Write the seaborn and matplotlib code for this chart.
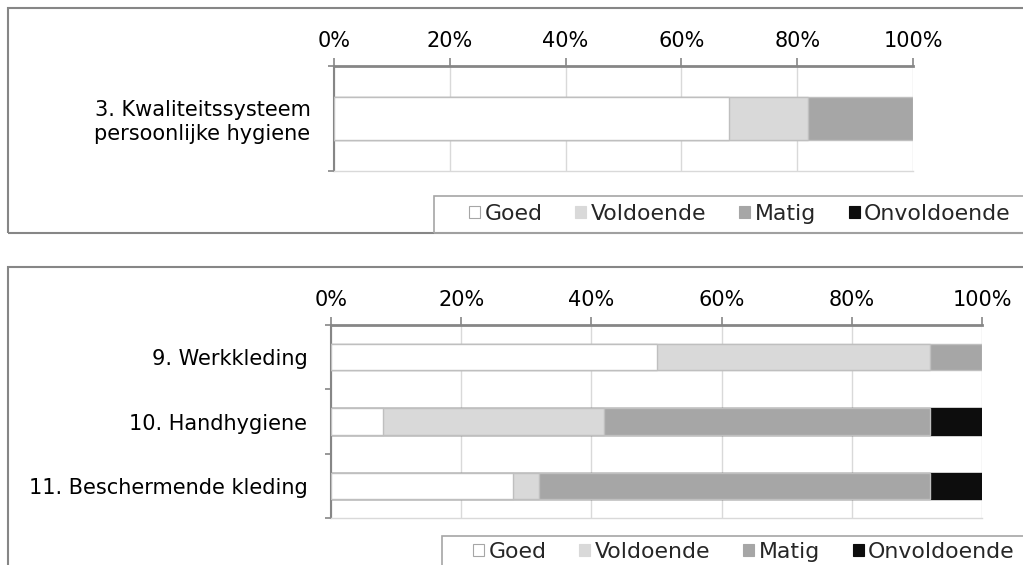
import numpy as np
import pandas as pd
import matplotlib
matplotlib.use("Agg")
import matplotlib.pyplot as plt
from matplotlib.patches import Rectangle, Patch
from matplotlib.ticker import FuncFormatter
import seaborn as sns

sns.set_theme(style="white")
plt.rcParams['font.family'] = ['DejaVu Sans']

# ---------------- data ----------------
series_names = ["Goed", "Voldoende", "Matig", "Onvoldoende"]
series_colors = ["#FFFFFF", "#D9D9D9", "#A6A6A6", "#0D0D0D"]

top_categories = ["3. Kwaliteitssysteem\npersoonlijke hygiene"]
top_goed = [68.2]
top_voldoende = [13.6]
top_matig = [18.2]
top_onvoldoende = [0.0]

bot_categories = ["9. Werkkleding", "10. Handhygiene", "11. Beschermende kleding"]
bot_goed = [50.0, 8.0, 28.0]
bot_voldoende = [42.0, 34.0, 4.0]
bot_matig = [8.0, 50.0, 60.0]
bot_onvoldoende = [0.0, 8.0, 8.0]

x_ticks = [0, 20, 40, 60, 80, 100]

W, H = 1023, 565
fig = plt.figure(figsize=(W / 100, H / 100), dpi=100)
GRAY = "#868686"
FS = 15
LFS = 15.8


def px_axes(x0, x1, y0, y1):
    return fig.add_axes([x0 / W, (H - y1) / H, (x1 - x0) / W, (y1 - y0) / H])


def draw(ax, cats, values):
    df = pd.DataFrame({"cat": cats})
    for name, v in zip(series_names, values):
        df[name] = v
    cum = df[series_names].cumsum(axis=1)
    for i in range(len(series_names) - 1, -1, -1):
        name = series_names[i]
        sub = pd.DataFrame({"cat": df["cat"], "cum": cum[name], "val": df[name]})
        sub = sub[sub["val"] > 0]
        if sub.empty:
            continue
        ec = "#BFBFBF" if i < 3 else series_colors[i]
        sns.barplot(data=sub, x="cum", y="cat", order=cats, orient="h",
                    color=series_colors[i], saturation=1, width=0.41,
                    edgecolor=ec, linewidth=1, errorbar=None, ax=ax, zorder=3)
    ax.set_xlim(0, 100)
    ax.set_ylim(len(cats) - 0.5, -0.5)
    ax.set_xlabel("")
    ax.set_ylabel("")
    ax.set_xticks(x_ticks)
    ax.xaxis.set_major_formatter(FuncFormatter(lambda v, p: f"{v:.0f}%"))
    ax.xaxis.tick_top()
    ax.tick_params(axis="x", which="major", top=True, bottom=False, direction="out",
                   length=6, width=1.2, color=GRAY, pad=5, labelsize=FS, labelcolor="black")
    ax.set_yticks(np.arange(-0.5, len(cats)), minor=True)
    ax.tick_params(axis="y", which="minor", left=True, direction="out", length=4,
                   width=1.2, color=GRAY)
    ax.tick_params(axis="y", which="major", left=False, length=0, pad=17,
                   labelsize=FS, labelcolor="black")
    for lab in ax.get_yticklabels():
        lab.set_linespacing(1.2)
    ax.grid(axis="x", color="#D9D9D9", linewidth=1, zorder=0)
    ax.grid(axis="y", visible=False)
    ax.set_axisbelow(True)
    ax.spines["top"].set_color(GRAY)
    ax.spines["top"].set_linewidth(2)
    ax.spines["left"].set_color(GRAY)
    ax.spines["left"].set_linewidth(1.5)
    ax.spines["bottom"].set_color("#D9D9D9")
    ax.spines["bottom"].set_linewidth(1)
    ax.spines["right"].set_visible(False)
    ax.set_facecolor("none")


def frame(x0, y0, x1, y1, lw=1.5, color=GRAY):
    fig.patches.append(Rectangle((x0 / W, (H - y1) / H), (x1 - x0) / W, (y1 - y0) / H,
                                 transform=fig.transFigure, fill=False,
                                 edgecolor=color, linewidth=lw, zorder=0))


def legend(xl, yc):
    handles = [Patch(facecolor=c, edgecolor="#A6A6A6" if i == 0 else c, linewidth=0.8)
               for i, c in enumerate(series_colors)]
    fig.legend(handles, series_names, loc="center left",
               bbox_to_anchor=(xl / W, (H - yc) / H), ncol=4, frameon=False,
               fontsize=LFS, handlelength=0.5, handleheight=0.5, handletextpad=0.2,
               columnspacing=1.5, borderpad=0, borderaxespad=0)


# top panel
frame(8, 8, 1030, 233)
ax1 = px_axes(334, 913, 66, 171)
draw(ax1, top_categories, [top_goed, top_voldoende, top_matig, top_onvoldoende])
frame(434, 196, 1030, 233, lw=1.2, color="#A6A6A6")
legend(469, 214)

# bottom panel
frame(8, 267, 1030, 575)
ax2 = px_axes(331, 982, 325, 518)
draw(ax2, bot_categories, [bot_goed, bot_voldoende, bot_matig, bot_onvoldoende])
frame(442, 536, 1030, 575, lw=1.2, color="#A6A6A6")
legend(473, 552)

fig.savefig("out.png", dpi=100)
